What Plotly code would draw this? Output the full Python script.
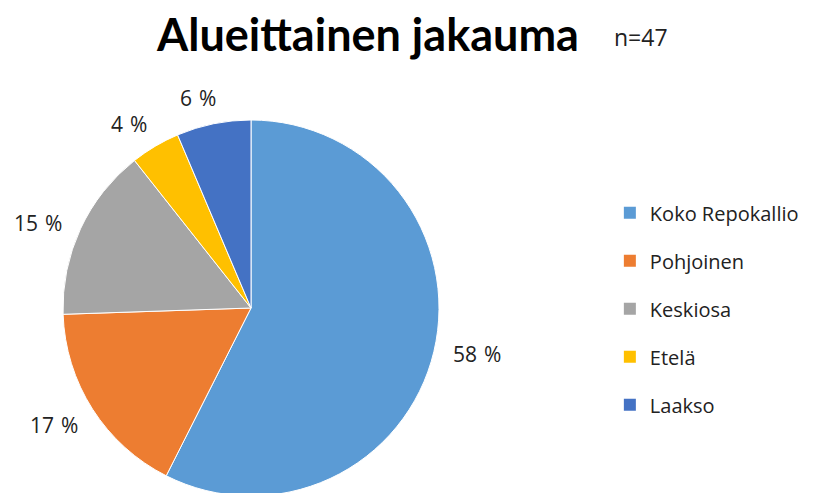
import math
import plotly.graph_objects as go

labels = ["Koko Repokallio", "Pohjoinen", "Keskiosa", "Etelä", "Laakso"]
counts = [27, 8, 7, 2, 3]
pct_labels = ["58 %", "17 %", "15 %", "4 %", "6 %"]
colors = ["#5B9BD5", "#ED7D31", "#A5A5A5", "#FFC000", "#4472C4"]
title_text = "Alueittainen jakauma"
n_text = "n=47"

W, H = 823, 493
# pie geometry in figure pixels (the page adds an 8px body margin)
PCX, PCY, PR = 243, 300, 188
dom_x = [(PCX - PR) / W, (PCX + PR) / W]
dom_y = [(H - PCY - PR) / H, (H - PCY + PR) / H]

total = sum(counts)

fig = go.Figure()
fig.add_trace(go.Pie(
    labels=labels, values=counts, sort=False, direction="clockwise", rotation=0,
    marker=dict(colors=colors, line=dict(color="white", width=1)),
    textinfo="none",
    domain=dict(x=dom_x, y=dom_y),
    showlegend=False, hoverinfo="label+percent",
))
for lab, col in zip(labels, colors):
    fig.add_trace(go.Scatter(
        x=[None], y=[None], mode="markers", name=lab, legendgroup=lab,
        marker=dict(symbol="square", size=12, color=col),
    ))

# percentage labels placed outside each slice (best-fit style box placement)
LBL_SIZE = 21
cum = 0.0
annotations = []
for v, t in zip(counts, pct_labels):
    frac_mid = (cum + v / 2) / total
    nudge = -2.5 if frac_mid > 0.75 or frac_mid < 0.5 else 1.5
    mid = frac_mid * 2 * math.pi + math.radians(nudge)
    cum += v
    s, c = math.sin(mid), -math.cos(mid)
    w = len(t) * LBL_SIZE * 0.55
    h = LBL_SIZE
    d = PR + 17 + abs(s) * w / 2 + abs(c) * h / 2
    px = PCX + d * s
    py = PCY + d * c + 3 * (-c if c > 0.3 else 1)
    annotations.append(dict(
        x=px / W, y=(H - py) / H, xref="paper", yref="paper",
        text=t.replace(" ", "\u2009\u2009"), showarrow=False, xanchor="center", yanchor="middle",
        font=dict(family="Open Sans", size=LBL_SIZE, color="#222222"),
    ))

annotations.append(dict(
    x=359.5 / W, y=(H - 26) / H, xref="paper", yref="paper",
    text=f"<b>{title_text}</b>", showarrow=False, xanchor="center", yanchor="middle",
    font=dict(family="Lato", size=45, color="black"),
))
annotations.append(dict(
    x=604 / W, y=(H - 29) / H, xref="paper", yref="paper",
    text=n_text, showarrow=False, xanchor="left", yanchor="middle",
    font=dict(family="Open Sans", size=23, color="#222222"),
))

fig.update_layout(
    width=W, height=H,
    margin=dict(l=0, r=0, t=0, b=0),
    paper_bgcolor="white", plot_bgcolor="white",
    xaxis=dict(visible=False), yaxis=dict(visible=False),
    annotations=annotations,
    legend=dict(
        x=0.7313, y=0.624, xanchor="left", yanchor="top",
        font=dict(family="Open Sans", size=20, color="#222222"),
        tracegroupgap=19, itemwidth=30,
    ),
)
fig.write_html("out.html")
